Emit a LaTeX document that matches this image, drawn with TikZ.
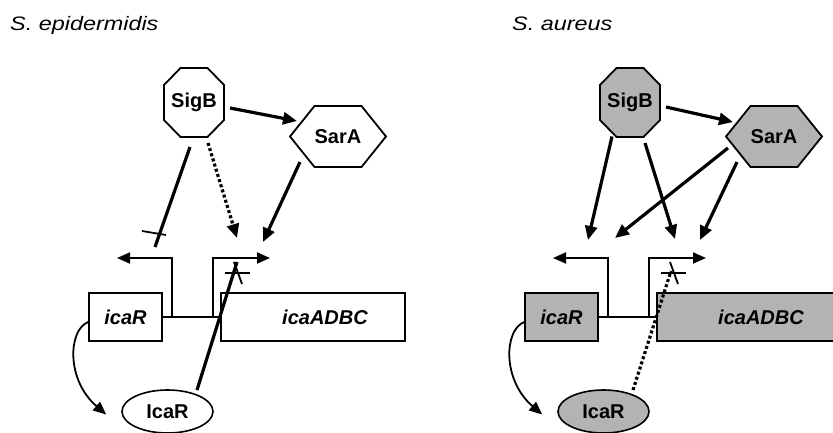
\documentclass[tikz,border=0pt]{standalone}
\usepackage{fontspec}
\setmainfont{Liberation Sans}
\newfontfamily\titlefont[FakeStretch=1.2]{Liberation Sans}
\usetikzlibrary{arrows.meta,calc,shapes.geometric}
\definecolor{boxgray}{RGB}{179,179,179}
\newcommand\octagonat[2]{\draw[polyshape,fill=#2] (#1) ++(-13.5,-34.5) -- ++(27,0) -- ++(16.5,17) -- ++(0,35) -- ++(-16.5,17) -- ++(-27,0) -- ++(-16.5,-17) -- ++(0,-35) -- cycle;}
\newcommand\hexagonat[2]{\draw[polyshape,fill=#2] (#1) ++(-48,0) -- ++(24.5,-30.5) -- ++(47,0) -- ++(24.5,30.5) -- ++(-24.5,30.5) -- ++(-47,0) -- cycle;}
\begin{document}
\begin{tikzpicture}[x=1pt,y=-1pt,
 lbl/.style={font=\fontsize{20}{22}\selectfont\bfseries, inner sep=0pt},
 ttl/.style={font=\fontsize{19.5}{22}\selectfont\titlefont\itshape, inner sep=0pt, anchor=base west},
 genebox/.style={draw, line width=1.6pt, minimum height=48pt, font=\fontsize{20}{22}\selectfont\bfseries\itshape, inner sep=0pt},
 prot/.style={draw, ellipse, line width=1.6pt, minimum width=91pt, minimum height=43pt, font=\fontsize{20}{22}\selectfont\bfseries, inner sep=0pt},
 act/.style={line width=3.2pt, -{Triangle[length=14pt,width=12pt]}},
 blk/.style={line width=3.2pt},
 xbar/.style={line width=1.8pt},
 dots/.style={line width=3.2pt, dash pattern=on 3pt off 2.4pt},
 prom/.style={line width=1.8pt, -{Triangle[length=13pt,width=11pt]}},
 curv/.style={line width=1.8pt, -{Triangle[length=13pt,width=11pt]}},
 polyshape/.style={line width=1.8pt, line join=miter}]
\useasboundingbox (0,0) rectangle (833,433);
\clip (0,0) rectangle (833,433);

% titles
\node[ttl] (t1) at (10,30.5) {S. epidermidis};
\node[ttl] (t2) at (512,30.5) {S. aureus};

% ---------------- left panel ----------------
\coordinate (cS1) at (194,102.5);
\coordinate (cA1) at (338,136.5);
\octagonat{cS1}{white}
\hexagonat{cA1}{white}
\node[lbl] (sigbL) at (cS1) {SigB};
\node[lbl] (saraL) at (cA1) {SarA};
\node[genebox, minimum width=73pt, fill=white] (icaRL) at (125.5,317) {icaR};
\node[genebox, minimum width=184pt, fill=white] (adbcL) at (313,317) {\hspace{24pt}icaADBC};
\node[prot, fill=white] (protL) at (167.5,411.5) {IcaR};

\coordinate (pLl) at (117,258);
\coordinate (pLr) at (270,258);
\draw[xbar] (icaRL.east) -- (adbcL.west);
\draw[prom] ([xshift=9pt]icaRL.east) |- (pLl);
\draw[prom] ([xshift=-7pt]adbcL.west) |- (pLr);

\coordinate (tL1) at (155,247);
\coordinate (tL2) at (237,238);
\coordinate (tL3) at (263,242);
\coordinate (tL4) at (237,262);
\draw[act] ($(cS1)+(36,5.5)$) -- ($(cA1)+(-41,-15.5)$);
\draw[blk] ($(cS1)+(-4,44.5)$) -- (tL1);
\draw[xbar] (142,231) -- (166,235);
\draw[dots,-{Triangle[length=14pt,width=12pt]}] ($(cS1)+(14,40.5)$) -- (tL2);
\draw[act] ($(cA1)+(-38,25.5)$) -- (tL3);
\draw[blk] ($(protL.center)+(29.5,-21.5)$) -- (tL4);
\draw[xbar] (225,273) -- (250,273);
\draw[xbar] (234,262) -- (242,284);
\draw[curv] ([yshift=-5pt]icaRL.west) .. controls (68,330) and (66,380) .. ($(protL.west)+(-15,3)$);

% ---------------- right panel ----------------
\coordinate (cS2) at (630,102.5);
\coordinate (cA2) at (774,136.5);
\octagonat{cS2}{boxgray}
\hexagonat{cA2}{boxgray}
\node[lbl] (sigbR) at (cS2) {SigB};
\node[lbl] (saraR) at (cA2) {SarA};
\node[genebox, minimum width=73pt, fill=boxgray] (icaRR) at (561.5,317) {icaR};
\node[genebox, minimum width=184pt, fill=boxgray] (adbcR) at (749,317) {\hspace{24pt}icaADBC};
\node[prot, fill=boxgray] (protR) at (603.5,411.5) {IcaR};

\coordinate (pRl) at (553,258);
\coordinate (pRr) at (706,258);
\draw[xbar] (icaRR.east) -- (adbcR.west);
\draw[prom] ([xshift=9pt]icaRR.east) |- (pRl);
\draw[prom] ([xshift=-7pt]adbcR.west) |- (pRr);

\coordinate (tR1) at (588,240);
\coordinate (tR2) at (675,239);
\coordinate (tR3) at (615,238);
\coordinate (tR4) at (700,240);
\coordinate (tR5) at (671,271);
\draw[act] ($(cS2)+(36,4.5)$) -- ($(cA2)+(-41,-14.5)$);
\draw[act] ($(cS2)+(-18,34)$) -- (tR1);
\draw[act] ($(cS2)+(15,40.5)$) -- (tR2);
\draw[act] ($(cA2)+(-46,11.5)$) -- (tR3);
\draw[act] ($(cA2)+(-37,25.5)$) -- (tR4);
\draw[dots] ($(protR.center)+(29.5,-21.5)$) -- (tR5);
\draw[xbar] (661,273) -- (686,273);
\draw[xbar] (670,262) -- (678,284);
\draw[curv] ([yshift=-5pt]icaRR.west) .. controls (504,330) and (502,380) .. ($(protR.west)+(-15,3)$);
\end{tikzpicture}
\end{document}
